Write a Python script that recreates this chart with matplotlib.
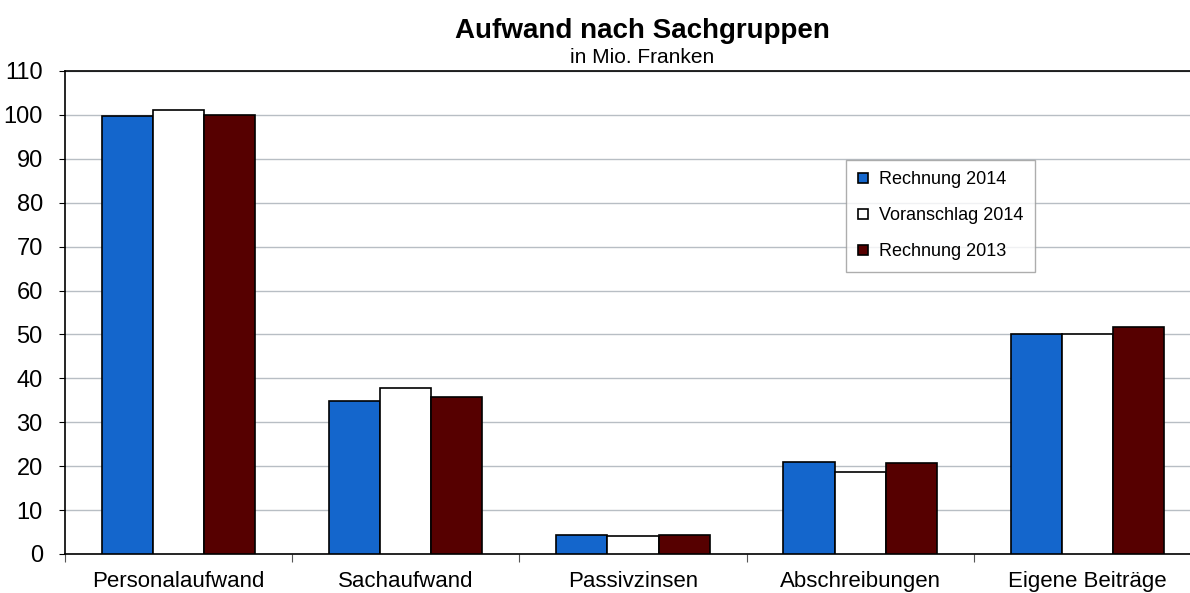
import numpy as np
import matplotlib.pyplot as plt

plt.rcParams['font.family'] = ['Liberation Sans', 'DejaVu Sans']

categories = ['Personalaufwand', 'Sachaufwand', 'Passivzinsen', 'Abschreibungen', 'Eigene Beiträge']
rechnung_2014 = [99.8, 34.9, 4.3, 21.0, 50.1]
voranschlag_2014 = [101.1, 37.8, 4.2, 18.7, 50.1]
rechnung_2013 = [100.0, 35.8, 4.3, 20.8, 51.7]

series = [
    ('Rechnung 2014', rechnung_2014, '#1466cc'),
    ('Voranschlag 2014', voranschlag_2014, '#ffffff'),
    ('Rechnung 2013', rechnung_2013, '#560000'),
]

fig = plt.figure(figsize=(11.9, 5.93), dpi=100)
ax = fig.add_axes([0.0546, 0.0658, 0.9546, 0.8145])

x = np.arange(len(categories))
w = 0.225
for i, (name, vals, col) in enumerate(series):
    ax.bar(x + (i - 1) * w, vals, w, color=col, edgecolor='black', linewidth=1.2,
           label=name, zorder=3)

ax.set_xlim(-0.5, len(categories) - 0.5)
ax.set_ylim(0, 110)
ax.set_yticks(np.arange(0, 111, 10))
ax.grid(axis='y', color='#b8bec4', linewidth=1, zorder=0)

ax.set_xticks(x)
ax.set_xticklabels(categories, fontsize=16)
ax.set_xticks(np.arange(-0.5, len(categories), 1), minor=True)
ax.tick_params(axis='x', which='major', length=0, pad=12)
ax.tick_params(axis='x', which='minor', length=6, width=0.8, color='#555555')
ax.tick_params(axis='y', labelsize=17, length=4, pad=12)

for s in ['left', 'bottom', 'top']:
    ax.spines[s].set_color('black')
    ax.spines[s].set_linewidth(1.2)
ax.spines['right'].set_visible(False)

fig.text(0.54, 0.948, 'Aufwand nach Sachgruppen', ha='center', va='center',
         fontsize=20, fontweight='bold')
fig.text(0.54, 0.903, 'in Mio. Franken', ha='center', va='center', fontsize=15)

leg = ax.legend(loc='upper left', bbox_to_anchor=(0.68, 0.835), fontsize=13,
                frameon=True, fancybox=False, edgecolor='#999999',
                handlelength=0.55, handleheight=0.55, labelspacing=1.05,
                borderpad=0.65, handletextpad=0.6)
leg.get_frame().set_linewidth(1)

fig.savefig('out.png', dpi=100)
